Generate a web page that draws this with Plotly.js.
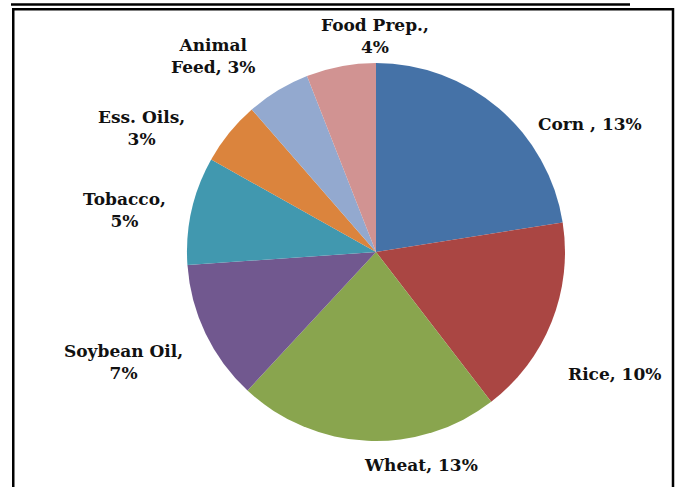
<!DOCTYPE html>
<html>
<head>
<meta charset="utf-8">
<script src="https://cdn.plot.ly/plotly-3.0.1.min.js"></script>
<style>html,body{margin:0;padding:0;background:#fff;}#chart{width:679px;height:487px;}</style>
</head>
<body>
<div id="chart"></div>
<script>
// Slice categories (clockwise from 12 o'clock)
const categories = ["Corn", "Rice", "Wheat", "Soybean Oil", "Tobacco", "Ess. Oils", "Animal Feed", "Food Prep."];
// Slice sizes (angles)
const values = [13.05, 9.9, 12.95, 6.96, 5.36, 3.16, 3.17, 3.45];
// Percent labels as printed
const percentLabels = ["13%", "10%", "13%", "7%", "5%", "3%", "3%", "4%"];
// Label texts as printed
const labelTexts = ["Corn , 13%", "Rice, 10%", "Wheat, 13%", "Soybean Oil,<br>7%", "Tobacco,<br>5%", "Ess. Oils,<br>3%", "Animal<br>Feed, 3%", "Food Prep.,<br>4%"];
const colors = ["#4572A7", "#AA4643", "#89A54E", "#71588F", "#4198AF", "#DB843D", "#93A9CF", "#D19392"];

const W = 679, H = 487;
const cx = 376, cy = 252, r = 189;
// label centres in pixels
const labelPos = [[590, 124], [614, 374], [421, 465], [123, 362], [124, 210], [141, 128], [213, 56], [375, 36]];

const annotations = labelTexts.map((t, i) => ({
  text: t,
  x: labelPos[i][0] / W, y: 1 - labelPos[i][1] / H,
  xref: "paper", yref: "paper", showarrow: false,
  xanchor: "center", yanchor: "middle", align: "center",
  font: {family: "DejaVu Serif", size: 17, color: "#111", weight: "bold"}
}));

const shapes = [
  {type: "rect", xref: "paper", yref: "paper", x0: 13.25 / W, x1: 673 / W, y0: -0.05, y1: 1 - 9.2 / H,
   line: {color: "#000", width: 2.5}, fillcolor: "rgba(0,0,0,0)"},
  {type: "line", xref: "paper", yref: "paper", x0: 11 / W, x1: 630 / W, y0: 1 - 4.5 / H, y1: 1 - 4.5 / H,
   line: {color: "#000", width: 2.5}}
];

Plotly.newPlot("chart", [{
  type: "pie",
  labels: categories,
  values: values,
  customdata: percentLabels,
  sort: false,
  direction: "clockwise",
  rotation: 0,
  textinfo: "none",
  hoverinfo: "label",
  marker: {colors: colors, line: {width: 0}},
  domain: {x: [(cx - r) / W, (cx + r) / W], y: [(H - cy - r) / H, (H - cy + r) / H]},
  showlegend: false
}], {
  width: W, height: H,
  margin: {l: 0, r: 0, t: 0, b: 0},
  paper_bgcolor: "#fff",
  showlegend: false,
  annotations: annotations,
  shapes: shapes
}, {displayModeBar: false, staticPlot: true});
</script>
</body>
</html>
